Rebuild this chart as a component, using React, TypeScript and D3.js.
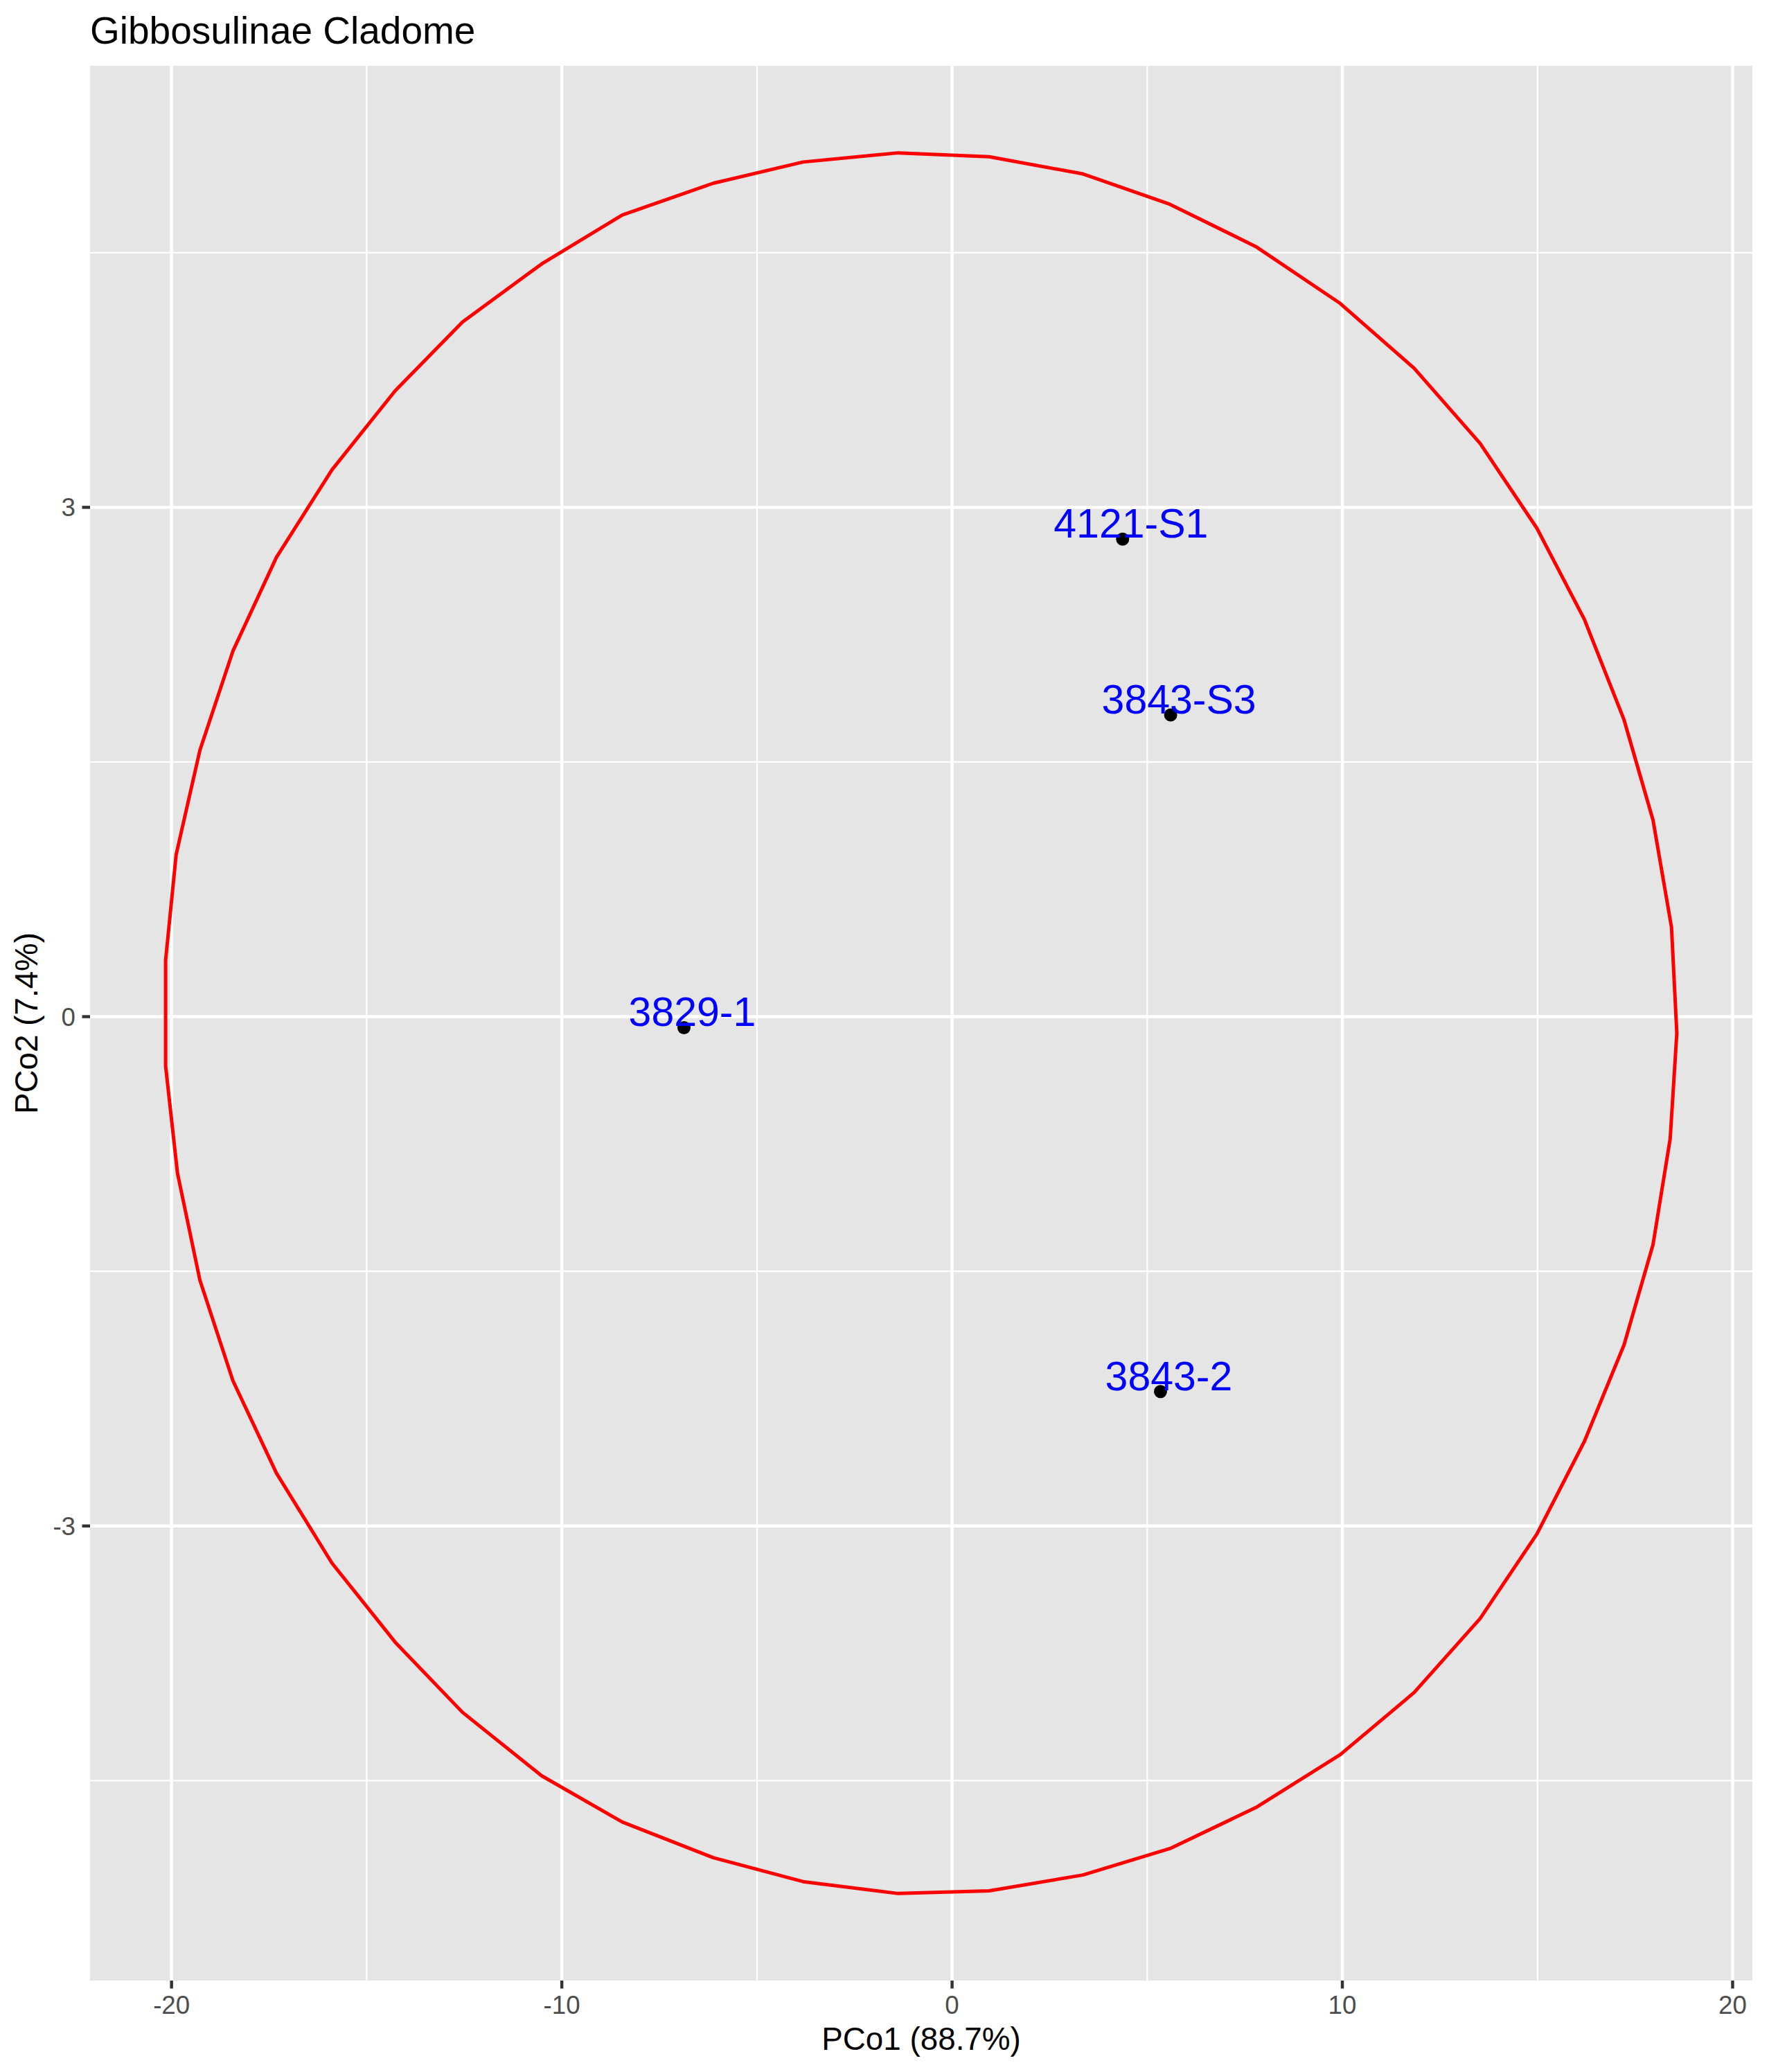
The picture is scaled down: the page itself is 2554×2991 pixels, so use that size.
import { useEffect, useRef } from "react";
import * as d3 from "d3";

// sample points (PCo1, PCo2)
const sampleNames = ["4121-S1", "3843-S3", "3829-1", "3843-2"];
const sampleX = [4.37, 5.6, -6.87, 5.34];
const sampleY = [2.813, 1.777, -0.065, -2.208];

// ellipse vertices
const ellipseX = [
  -1.383, 0.95, 3.351, 5.583, 7.782, 9.946, 11.84, 13.531, 14.985, 16.202, 17.217,
  17.961, 18.434, 18.57, 18.4, 17.961, 17.217, 16.202, 14.985, 13.531, 11.84, 9.946,
  7.782, 5.583, 3.351, 0.95, -1.383, -3.818, -6.118, -8.451, -10.514, -12.543, -14.268,
  -15.891, -17.311, -18.428, -19.273, -19.848, -20.152, -20.152, -19.882, -19.273,
  -18.428, -17.311, -15.891, -14.268, -12.543, -10.514, -8.451, -6.118, -3.818,
];
const ellipseY = [
  5.088, 5.065, 4.964, 4.785, 4.536, 4.201, 3.819, 3.376, 2.877, 2.34, 1.749, 1.157,
  0.526, -0.097, -0.719, -1.342, -1.934, -2.502, -3.047, -3.545, -3.981, -4.347, -4.659,
  -4.9, -5.056, -5.149, -5.165, -5.095, -4.954, -4.744, -4.472, -4.098, -3.685, -3.218,
  -2.689, -2.144, -1.552, -0.922, -0.291, 0.332, 0.954, 1.569, 2.153, 2.706, 3.22, 3.687,
  4.092, 4.434, 4.722, 4.909, 5.034,
];

const xTicks = [-20, -10, 0, 10, 20];
const xMinor = [-15, -5, 5, 15];
const yTicks = [-3, 0, 3];
const yMinor = [-4.5, -1.5, 1.5, 4.5];

const title = "Gibbosulinae Cladome";
const xTitle = "PCo1 (88.7%)";
const yTitle = "PCo2 (7.4%)";

const W = 2554;
const H = 2991;
const FONT = "'Liberation Sans', Arial, Helvetica, sans-serif";

const App = () => {
  const svgRef = useRef<SVGSVGElement | null>(null);

  useEffect(() => {
    if (!svgRef.current) return;
    const svg = d3.select(svgRef.current);
    svg.selectAll("*").remove();

    const panel = { left: 130, right: 2530, top: 95, bottom: 2859 };
    const lw = 4.44;

    // ggplot-like 5% expansion
    const expand = (ext: [number, number]) => {
      const d = (ext[1] - ext[0]) * 0.05;
      return [ext[0] - d, ext[1] + d];
    };
    const xExt = d3.extent(ellipseX) as [number, number];
    const yExt = d3.extent(ellipseY) as [number, number];

    const x = d3.scaleLinear().domain(expand(xExt)).range([panel.left, panel.right]);
    const y = d3.scaleLinear().domain(expand(yExt)).range([panel.bottom, panel.top]);

    svg.append("rect").attr("width", W).attr("height", H).attr("fill", "#FFFFFF");

    // panel
    svg
      .append("rect")
      .attr("x", panel.left)
      .attr("y", panel.top)
      .attr("width", panel.right - panel.left)
      .attr("height", panel.bottom - panel.top)
      .attr("fill", "#E5E5E5");

    const grid = svg.append("g").attr("stroke", "#FFFFFF");
    const vLines = (vals: number[], w: number) =>
      grid
        .append("g")
        .selectAll("line")
        .data(vals)
        .join("line")
        .attr("x1", (d) => x(d))
        .attr("x2", (d) => x(d))
        .attr("y1", panel.top)
        .attr("y2", panel.bottom)
        .attr("stroke-width", w);
    const hLines = (vals: number[], w: number) =>
      grid
        .append("g")
        .selectAll("line")
        .data(vals)
        .join("line")
        .attr("x1", panel.left)
        .attr("x2", panel.right)
        .attr("y1", (d) => y(d))
        .attr("y2", (d) => y(d))
        .attr("stroke-width", w);
    vLines(xMinor, lw / 2);
    hLines(yMinor, lw / 2);
    vLines(xTicks, lw);
    hLines(yTicks, lw);

    // ellipse
    const pts = ellipseX.map((v, i) => [v, ellipseY[i]] as [number, number]);
    const line = d3
      .line<[number, number]>()
      .x((d) => x(d[0]))
      .y((d) => y(d[1]))
      .curve(d3.curveLinearClosed);
    svg
      .append("path")
      .datum(pts)
      .attr("d", line)
      .attr("fill", "none")
      .attr("stroke", "#FF0000")
      .attr("stroke-width", 5)
      .attr("stroke-linejoin", "round");

    // points
    const samples = sampleNames.map((n, i) => ({ name: n, x: sampleX[i], y: sampleY[i] }));
    svg
      .append("g")
      .selectAll("circle")
      .data(samples)
      .join("circle")
      .attr("cx", (d) => x(d.x))
      .attr("cy", (d) => y(d.y))
      .attr("r", 9.5)
      .attr("fill", "#000000");

    // labels
    svg
      .append("g")
      .selectAll("text")
      .data(samples)
      .join("text")
      .attr("x", (d) => x(d.x) + 12)
      .attr("y", (d) => y(d.y) - 2)
      .attr("text-anchor", "middle")
      .attr("font-family", FONT)
      .attr("font-size", 59)
      .attr("fill", "#0000FF")
      .text((d) => d.name);

    // x axis
    const xa = svg.append("g");
    xa.selectAll("line")
      .data(xTicks)
      .join("line")
      .attr("x1", (d) => x(d))
      .attr("x2", (d) => x(d))
      .attr("y1", panel.bottom)
      .attr("y2", panel.bottom + 11.5)
      .attr("stroke", "#333333")
      .attr("stroke-width", lw);
    xa.selectAll("text")
      .data(xTicks)
      .join("text")
      .attr("x", (d) => x(d))
      .attr("y", 2907)
      .attr("text-anchor", "middle")
      .attr("font-family", FONT)
      .attr("font-size", 36.7)
      .attr("fill", "#4D4D4D")
      .text((d) => String(d));

    // y axis
    const ya = svg.append("g");
    ya.selectAll("line")
      .data(yTicks)
      .join("line")
      .attr("x1", panel.left - 11.5)
      .attr("x2", panel.left)
      .attr("y1", (d) => y(d))
      .attr("y2", (d) => y(d))
      .attr("stroke", "#333333")
      .attr("stroke-width", lw);
    ya.selectAll("text")
      .data(yTicks)
      .join("text")
      .attr("x", 109)
      .attr("y", (d) => y(d) + 13)
      .attr("text-anchor", "end")
      .attr("font-family", FONT)
      .attr("font-size", 36.7)
      .attr("fill", "#4D4D4D")
      .text((d) => String(d));

    // titles
    svg
      .append("text")
      .attr("x", panel.left)
      .attr("y", 63)
      .attr("font-family", FONT)
      .attr("font-size", 55)
      .attr("fill", "#000000")
      .text(title);
    svg
      .append("text")
      .attr("x", (panel.left + panel.right) / 2)
      .attr("y", 2959)
      .attr("text-anchor", "middle")
      .attr("font-family", FONT)
      .attr("font-size", 45.8)
      .attr("fill", "#000000")
      .text(xTitle);
    svg
      .append("text")
      .attr("transform", `translate(54,${(panel.top + panel.bottom) / 2}) rotate(-90)`)
      .attr("text-anchor", "middle")
      .attr("font-family", FONT)
      .attr("font-size", 45.8)
      .attr("fill", "#000000")
      .text(yTitle);
  }, []);

  return (
    <svg
      ref={svgRef}
      width={W}
      height={H}
      style={{ position: "absolute", left: 0, top: 0, display: "block" }}
    ></svg>
  );
};

export default App;
